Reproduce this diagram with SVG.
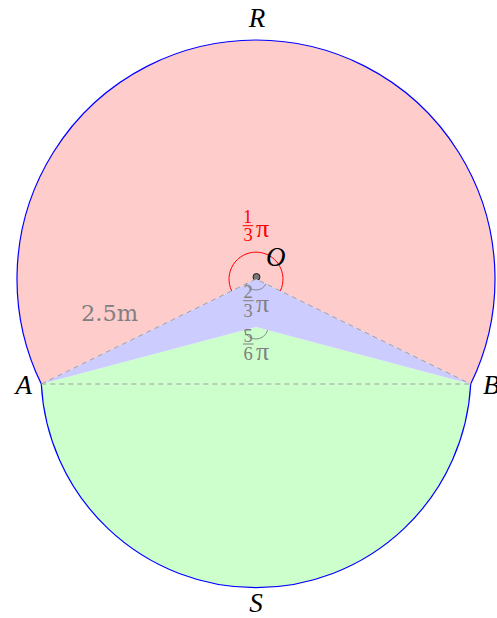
<svg xmlns="http://www.w3.org/2000/svg" width="497" height="618" viewBox="0 0 497 618">
<style>
.lbl{font-family:"Liberation Serif","DejaVu Serif",serif;font-style:italic;font-size:27px;fill:#000}
.num{font-family:"Liberation Serif","DejaVu Serif",serif;font-size:18.5px;text-anchor:middle}
.pi{font-family:"Liberation Serif","DejaVu Serif",serif;font-size:26px}
.red{fill:#ff0000}
.gray{fill:#808080}
.dash{stroke:#999;stroke-width:0.9;stroke-dasharray:5,4;fill:none}
.outline{stroke:#0000ff;stroke-width:1.2;fill:none}
</style>
<rect width="497" height="618" fill="#fff"/>
<g id="regions">
<path id="region-R" d="M41.3,384 A239,239 0 1 1 470.7,384 L256,279 Z" fill="#ffcccc"/>
<circle id="point-O" cx="256.5" cy="277" r="3.5" fill="#777" stroke="#000" stroke-width="0.8"/>
<path id="region-S" d="M41.3,384 L256,327 L470.7,384 A215,215 0 0 1 41.3,384 Z" fill="#ccffcc"/>
<path id="region-kite" d="M41.3,384 L256,279 L470.7,384 L256,327 Z" fill="#ccccff"/>
</g>
<g id="connectors">
<path class="outline" d="M41.3,384 A239,239 0 1 1 470.7,384"/>
<path class="outline" d="M470.7,384 A215,215 0 0 1 41.3,384"/>
<path class="dash" d="M41.3,384 L256,279 L470.7,384"/>
<path class="dash" d="M41.3,384 L470.7,384"/>
<path d="M231.7,290.9 A27,27 0 1 1 280.3,290.9" fill="none" stroke="#ff0000" stroke-width="1"/>
<path d="M246.1,283.8 A11,11 0 0 0 265.9,283.8" fill="none" stroke="#808080" stroke-width="0.9"/>
<path d="M244.4,330.1 A12,12 0 0 0 267.6,330.1" fill="none" stroke="#808080" stroke-width="0.9"/>
</g>
<g id="labels">
<text class="lbl" x="257" y="27" text-anchor="middle">R</text>
<text class="lbl" x="256" y="612" text-anchor="middle">S</text>
<text class="lbl" x="32" y="394" text-anchor="end">A</text>
<text class="lbl" x="483" y="394">B</text>
<text class="lbl" x="266" y="266">O</text>
<text x="81" y="321" font-family="DejaVu Serif, serif" font-size="22.5" fill="#808080">2.5m</text>
</g>
<g id="angle-R">
<text class="num red" x="247.5" y="223">1</text>
<rect x="242.7" y="225.2" width="10.6" height="1" fill="#ff0000"/>
<text class="num red" x="248" y="240.5">3</text>
<text class="pi red" x="256" y="237">π</text>
</g>
<g id="angle-O">
<text class="num gray" x="248" y="298">2</text>
<rect x="243" y="300.2" width="10.6" height="1" fill="#808080"/>
<text class="num gray" x="248" y="316.5">3</text>
<text class="pi gray" x="256" y="312">π</text>
</g>
<g id="angle-P">
<text class="num gray" x="248" y="341.5">5</text>
<rect x="243" y="343.5" width="10.6" height="1" fill="#808080"/>
<text class="num gray" x="248" y="360">6</text>
<text class="pi gray" x="256" y="360">π</text>
</g>
</svg>
